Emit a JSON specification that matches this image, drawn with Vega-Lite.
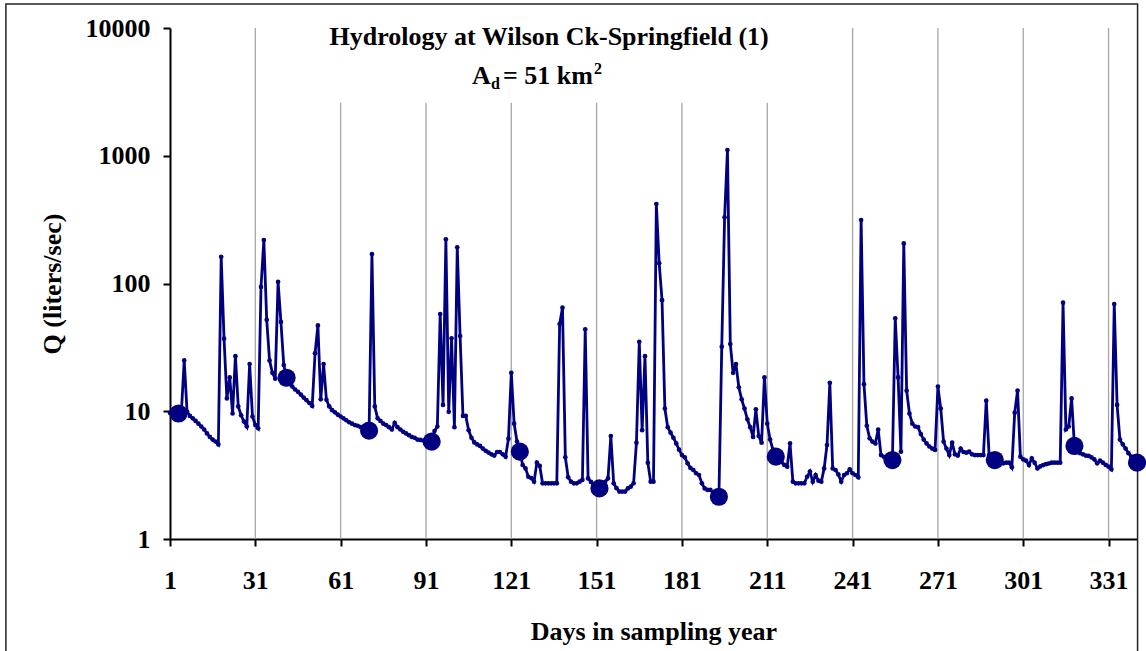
{
  "$schema": "https://vega.github.io/schema/vega-lite/v6.json",
  "width": 967,
  "height": 511,
  "autosize": {"type": "none"},
  "padding": {"left": 170, "top": 28, "right": 9, "bottom": 112},
  "background": "white",
  "config": {
    "view": {"stroke": null},
    "font": "Liberation Serif",
    "axis": {
      "labelFont": "Liberation Serif", "titleFont": "Liberation Serif",
      "labelFontWeight": "bold", "titleFontWeight": "bold",
      "labelColor": "black", "titleColor": "black",
      "domainColor": "black", "tickColor": "black",
      "labelFontSize": 26, "titleFontSize": 26,
      "tickSize": 7, "tickWidth": 2, "domainWidth": 2, "grid": false,
      "labelOverlap": false
    }
  },
  "datasets": {
    "one": [{}],
    "flow": [
      {"day":1,"Q":9.7},{"day":2,"Q":9.6},{"day":3,"Q":9.6},{"day":4,"Q":9.6,"sample":1},{"day":5,"Q":9.8},
      {"day":6,"Q":25},{"day":7,"Q":9.9},{"day":8,"Q":9.2},{"day":9,"Q":8.8},{"day":10,"Q":8.4},
      {"day":11,"Q":8.0},{"day":12,"Q":7.6},{"day":13,"Q":7.2},{"day":14,"Q":6.7},{"day":15,"Q":6.3},
      {"day":16,"Q":6.0},{"day":17,"Q":5.8},{"day":18,"Q":5.5},{"day":19,"Q":162},{"day":20,"Q":37},
      {"day":21,"Q":12.6},{"day":22,"Q":18.4},{"day":23,"Q":9.6},{"day":24,"Q":27},{"day":25,"Q":10.9},
      {"day":26,"Q":9.3},{"day":27,"Q":8.3},{"day":28,"Q":7.6},{"day":29,"Q":23.4},{"day":30,"Q":9.1},
      {"day":31,"Q":7.8},{"day":32,"Q":7.35},{"day":33,"Q":94},{"day":34,"Q":219},{"day":35,"Q":52},
      {"day":36,"Q":25},{"day":37,"Q":20},{"day":38,"Q":18},{"day":39,"Q":103},{"day":40,"Q":50},
      {"day":41,"Q":23},{"day":42,"Q":18.3,"sample":1},{"day":43,"Q":16.5},{"day":44,"Q":15.6},{"day":45,"Q":14.8},
      {"day":46,"Q":14.2},{"day":47,"Q":13.5},{"day":48,"Q":12.8},{"day":49,"Q":12.2},{"day":50,"Q":11.6},
      {"day":51,"Q":11.0},{"day":52,"Q":28.4},{"day":53,"Q":47},{"day":54,"Q":12.4},{"day":55,"Q":23.4},
      {"day":56,"Q":12.3},{"day":57,"Q":10.9},{"day":58,"Q":10.2},{"day":59,"Q":9.8},{"day":60,"Q":9.4},
      {"day":61,"Q":9.1},{"day":62,"Q":8.8},{"day":63,"Q":8.5},{"day":64,"Q":8.2},{"day":65,"Q":8.0},
      {"day":66,"Q":7.8},{"day":67,"Q":7.7},{"day":68,"Q":7.5},{"day":69,"Q":7.4},{"day":70,"Q":7.2},
      {"day":71,"Q":7.05,"sample":1},{"day":72,"Q":170},{"day":73,"Q":10.9},{"day":74,"Q":8.8},{"day":75,"Q":8.4},
      {"day":76,"Q":8.0},{"day":77,"Q":7.8},{"day":78,"Q":7.5},{"day":79,"Q":7.2},{"day":80,"Q":8.1},
      {"day":81,"Q":7.5},{"day":82,"Q":7.2},{"day":83,"Q":6.9},{"day":84,"Q":6.7},{"day":85,"Q":6.5},
      {"day":86,"Q":6.3},{"day":87,"Q":6.2},{"day":88,"Q":6.0},{"day":89,"Q":5.96},{"day":90,"Q":5.9},
      {"day":91,"Q":5.85},{"day":92,"Q":5.8},{"day":93,"Q":5.78,"sample":1},{"day":94,"Q":7.0},{"day":95,"Q":7.6},
      {"day":96,"Q":57.7},{"day":97,"Q":11.2},{"day":98,"Q":222},{"day":99,"Q":9.9},{"day":100,"Q":37.2},
      {"day":101,"Q":7.5},{"day":102,"Q":192},{"day":103,"Q":38.8},{"day":104,"Q":9.2},{"day":105,"Q":9.2},
      {"day":106,"Q":7.1},{"day":107,"Q":6.2},{"day":108,"Q":5.7},{"day":109,"Q":5.5},{"day":110,"Q":5.35},
      {"day":111,"Q":5.1},{"day":112,"Q":4.9},{"day":113,"Q":4.75},{"day":114,"Q":4.6},{"day":115,"Q":4.5},
      {"day":116,"Q":4.8},{"day":117,"Q":4.8},{"day":118,"Q":4.6},{"day":119,"Q":4.4},{"day":120,"Q":6.1},
      {"day":121,"Q":20},{"day":122,"Q":8.0},{"day":123,"Q":5.8},{"day":124,"Q":4.83,"sample":1},{"day":125,"Q":3.8},
      {"day":126,"Q":3.57},{"day":127,"Q":3.07},{"day":128,"Q":3.0},{"day":129,"Q":2.81},{"day":130,"Q":3.96},
      {"day":131,"Q":3.73},{"day":132,"Q":2.73},{"day":133,"Q":2.73},{"day":134,"Q":2.73},{"day":135,"Q":2.73},
      {"day":136,"Q":2.73},{"day":137,"Q":2.73},{"day":138,"Q":48.2},{"day":139,"Q":64.7},{"day":140,"Q":4.36},
      {"day":141,"Q":3.04},{"day":142,"Q":2.81},{"day":143,"Q":2.73},{"day":144,"Q":2.73},{"day":145,"Q":2.81},
      {"day":146,"Q":2.9},{"day":147,"Q":43.8},{"day":148,"Q":2.98},{"day":149,"Q":2.8},{"day":150,"Q":2.65},
      {"day":151,"Q":2.55},{"day":152,"Q":2.49,"sample":1},{"day":153,"Q":2.6},{"day":154,"Q":2.8},{"day":155,"Q":2.98},
      {"day":156,"Q":6.4},{"day":157,"Q":2.73},{"day":158,"Q":2.5},{"day":159,"Q":2.35},{"day":160,"Q":2.35},
      {"day":161,"Q":2.35},{"day":162,"Q":2.49},{"day":163,"Q":2.57},{"day":164,"Q":2.73},{"day":165,"Q":5.68},
      {"day":166,"Q":35},{"day":167,"Q":7.1},{"day":168,"Q":27},{"day":169,"Q":3.96},{"day":170,"Q":2.81},
      {"day":171,"Q":2.81},{"day":172,"Q":419},{"day":173,"Q":144},{"day":174,"Q":74},{"day":175,"Q":10.5},
      {"day":176,"Q":7.5},{"day":177,"Q":6.8},{"day":178,"Q":6.2},{"day":179,"Q":5.6},{"day":180,"Q":5.0},
      {"day":181,"Q":4.54},{"day":182,"Q":4.36},{"day":183,"Q":3.91},{"day":184,"Q":3.6},{"day":185,"Q":3.47},
      {"day":186,"Q":3.27},{"day":187,"Q":3.17},{"day":188,"Q":2.73},{"day":189,"Q":2.49},{"day":190,"Q":2.42},
      {"day":191,"Q":2.42},{"day":192,"Q":2.3},{"day":193,"Q":2.2},{"day":194,"Q":2.14,"sample":1},{"day":195,"Q":32},
      {"day":196,"Q":330},{"day":197,"Q":1109},{"day":198,"Q":33.6},{"day":199,"Q":20},{"day":200,"Q":23.4},
      {"day":201,"Q":15.4},{"day":202,"Q":12.4},{"day":203,"Q":10.5},{"day":204,"Q":8.65},{"day":205,"Q":7.5},
      {"day":206,"Q":6.3},{"day":207,"Q":10.35},{"day":208,"Q":6.4},{"day":209,"Q":5.68},{"day":210,"Q":18.4},
      {"day":211,"Q":8.0},{"day":212,"Q":6.0},{"day":213,"Q":5.0},{"day":214,"Q":4.41,"sample":1},{"day":215,"Q":4.2},
      {"day":216,"Q":4.0},{"day":217,"Q":3.8},{"day":218,"Q":3.68},{"day":219,"Q":5.6},{"day":220,"Q":2.81},
      {"day":221,"Q":2.73},{"day":222,"Q":2.73},{"day":223,"Q":2.73},{"day":224,"Q":2.73},{"day":225,"Q":3.07},
      {"day":226,"Q":3.37},{"day":227,"Q":2.81},{"day":228,"Q":3.17},{"day":229,"Q":2.86},{"day":230,"Q":2.81},
      {"day":231,"Q":3.57},{"day":232,"Q":5.44},{"day":233,"Q":16.7},{"day":234,"Q":3.57},{"day":235,"Q":3.47},
      {"day":236,"Q":3.2},{"day":237,"Q":2.81},{"day":238,"Q":3.17},{"day":239,"Q":3.27},{"day":240,"Q":3.51},
      {"day":241,"Q":3.27},{"day":242,"Q":3.17},{"day":243,"Q":3.04},{"day":244,"Q":314},{"day":245,"Q":16.3},
      {"day":246,"Q":7.7},{"day":247,"Q":6.14},{"day":248,"Q":5.78},{"day":249,"Q":5.6},{"day":250,"Q":7.2},
      {"day":251,"Q":4.54},{"day":252,"Q":4.4},{"day":253,"Q":4.3},{"day":254,"Q":4.2},{"day":255,"Q":4.15,"sample":1},
      {"day":256,"Q":53.4},{"day":257,"Q":18.4},{"day":258,"Q":4.83},{"day":259,"Q":206},{"day":260,"Q":14.5},
      {"day":261,"Q":9.6},{"day":262,"Q":8.0},{"day":263,"Q":7.6},{"day":264,"Q":7.5},{"day":265,"Q":6.63},
      {"day":266,"Q":6.0},{"day":267,"Q":5.6},{"day":268,"Q":5.3},{"day":269,"Q":5.1},{"day":270,"Q":4.98},
      {"day":271,"Q":15.6},{"day":272,"Q":10.5},{"day":273,"Q":5.78},{"day":274,"Q":5.1},{"day":275,"Q":4.54},
      {"day":276,"Q":5.68},{"day":277,"Q":4.6},{"day":278,"Q":4.5},{"day":279,"Q":5.1},{"day":280,"Q":4.8},
      {"day":281,"Q":4.74},{"day":282,"Q":4.83},{"day":283,"Q":4.6},{"day":284,"Q":4.54},{"day":285,"Q":4.54},
      {"day":286,"Q":4.54},{"day":287,"Q":4.54},{"day":288,"Q":12.1},{"day":289,"Q":4.54},{"day":290,"Q":4.3},
      {"day":291,"Q":4.15,"sample":1},{"day":292,"Q":4.0},{"day":293,"Q":3.91},{"day":294,"Q":3.91},{"day":295,"Q":3.96},
      {"day":296,"Q":3.96},{"day":297,"Q":3.64},{"day":298,"Q":9.75},{"day":299,"Q":14.5},{"day":300,"Q":4.41},
      {"day":301,"Q":4.2},{"day":302,"Q":4.1},{"day":303,"Q":3.79},{"day":304,"Q":4.27},{"day":305,"Q":3.96},
      {"day":306,"Q":3.57},{"day":307,"Q":3.7},{"day":308,"Q":3.79},{"day":309,"Q":3.85},{"day":310,"Q":3.9},
      {"day":311,"Q":3.96},{"day":312,"Q":3.96},{"day":313,"Q":3.96},{"day":314,"Q":3.96},{"day":315,"Q":70.8},
      {"day":316,"Q":7.2},{"day":317,"Q":7.6},{"day":318,"Q":12.6},{"day":319,"Q":5.35,"sample":1},{"day":320,"Q":4.83},
      {"day":321,"Q":4.7},{"day":322,"Q":4.6},{"day":323,"Q":4.5},{"day":324,"Q":4.47},{"day":325,"Q":4.35},
      {"day":326,"Q":4.2},{"day":327,"Q":3.91},{"day":328,"Q":4.1},{"day":329,"Q":3.96},{"day":330,"Q":3.8},
      {"day":331,"Q":3.68},{"day":332,"Q":3.51},{"day":333,"Q":69},{"day":334,"Q":11.2},{"day":335,"Q":6.0},
      {"day":336,"Q":5.5},{"day":337,"Q":5.1},{"day":338,"Q":4.7},{"day":339,"Q":4.41},{"day":340,"Q":4.2},
      {"day":341,"Q":3.96,"sample":1}
    ],
    "grid": [{"day":31},{"day":61},{"day":91},{"day":121},{"day":151},{"day":181},{"day":211},{"day":241},{"day":271},{"day":301},{"day":331}]
  },
  "layer": [
    {
      "data": {"name": "one"},
      "mark": {"type": "rect", "fill": null, "stroke": "#222222", "strokeWidth": 1.5, "clip": false},
      "encoding": {
        "x": {
          "datum": -56.7, "type": "quantitative", "title": "Days in sampling year",
          "scale": {"domain": [1, 341], "nice": false, "zero": false},
          "axis": {
            "title": "Days in sampling year",
            "values": [1, 31, 61, 91, 121, 151, 181, 211, 241, 271, 301, 331],
            "labelFlush": false, "labelPadding": 21, "titleY": 92, "titleBaseline": "middle"
          }
        },
        "x2": {"datum": 341.2},
        "y": {
          "datum": 15400, "type": "quantitative", "title": "Q (liters/sec)",
          "scale": {"type": "log", "domain": [1, 10000], "nice": false},
          "axis": {
            "title": "Q (liters/sec)",
            "values": [1, 10, 100, 1000, 10000], "format": "d",
            "labelPadding": 13, "titleX": -118, "titleY": 255.5, "titleBaseline": "middle"
          }
        },
        "y2": {"datum": 0.1}
      }
    },
    {
      "data": {"name": "grid"},
      "mark": {"type": "rule", "color": "#a6a6a6", "strokeWidth": 1.3},
      "encoding": {
        "x": {"field": "day", "type": "quantitative", "title": "Days in sampling year"}
      }
    },
    {
      "data": {"name": "one"},
      "mark": {"type": "rect", "fill": "white", "stroke": null},
      "encoding": {
        "x": {"datum": 40, "type": "quantitative"},
        "x2": {"datum": 232},
        "y": {"datum": 2600, "type": "quantitative"},
        "y2": {"datum": 10000}
      }
    },
    {
      "data": {"name": "flow"},
      "mark": {"type": "line", "color": "#000080", "strokeWidth": 2.8, "point": {"filled": true, "size": 22, "color": "#000080"}},
      "encoding": {
        "x": {"field": "day", "type": "quantitative", "title": "Days in sampling year"},
        "y": {"field": "Q", "type": "quantitative", "title": "Q (liters/sec)"}
      }
    },
    {
      "data": {"name": "flow"},
      "transform": [{"filter": "datum.sample === 1"}],
      "mark": {"type": "circle", "color": "#000080", "opacity": 1, "size": 330},
      "encoding": {
        "x": {"field": "day", "type": "quantitative", "title": "Days in sampling year"},
        "y": {"field": "Q", "type": "quantitative", "title": "Q (liters/sec)"}
      }
    },
    {
      "data": {"name": "one"},
      "mark": {"type": "text", "text": "Hydrology at Wilson Ck-Springfield (1)", "font": "Liberation Serif", "fontWeight": "bold", "fontSize": 26, "align": "center", "baseline": "alphabetic", "color": "black"},
      "encoding": {
        "x": {"datum": 134.3, "type": "quantitative"},
        "y": {"datum": 7400, "type": "quantitative"}
      }
    },
    {
      "data": {"name": "one"},
      "mark": {"type": "text", "text": "A", "font": "Liberation Serif", "fontWeight": "bold", "fontSize": 26, "align": "left", "baseline": "alphabetic", "color": "black", "dx": -70},
      "encoding": {
        "x": {"datum": 131.8, "type": "quantitative"},
        "y": {"datum": 3650, "type": "quantitative"}
      }
    },
    {
      "data": {"name": "one"},
      "mark": {"type": "text", "text": "d", "font": "Liberation Serif", "fontWeight": "bold", "fontSize": 16, "align": "left", "baseline": "alphabetic", "color": "black", "dx": -51, "dy": 5},
      "encoding": {
        "x": {"datum": 131.8, "type": "quantitative"},
        "y": {"datum": 3650, "type": "quantitative"}
      }
    },
    {
      "data": {"name": "one"},
      "mark": {"type": "text", "text": "= 51 km", "font": "Liberation Serif", "fontWeight": "bold", "fontSize": 26, "align": "left", "baseline": "alphabetic", "color": "black", "dx": -39},
      "encoding": {
        "x": {"datum": 131.8, "type": "quantitative"},
        "y": {"datum": 3650, "type": "quantitative"}
      }
    },
    {
      "data": {"name": "one"},
      "mark": {"type": "text", "text": "2", "font": "Liberation Serif", "fontWeight": "bold", "fontSize": 16, "align": "left", "baseline": "alphabetic", "color": "black", "dx": 52, "dy": -10},
      "encoding": {
        "x": {"datum": 131.8, "type": "quantitative"},
        "y": {"datum": 3650, "type": "quantitative"}
      }
    }
  ]
}
